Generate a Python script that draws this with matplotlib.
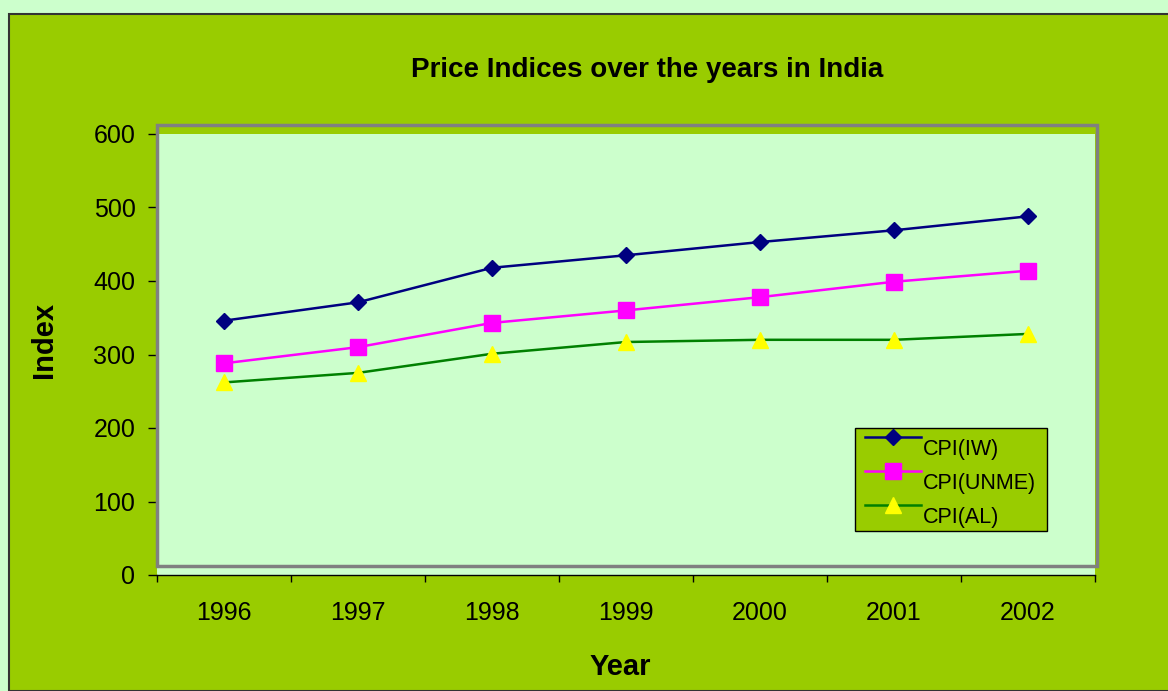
import matplotlib
matplotlib.use('Agg')
import matplotlib.pyplot as plt
from matplotlib.patches import Rectangle
from matplotlib.lines import Line2D
from matplotlib.ticker import FixedLocator, NullFormatter

years = ['1996', '1997', '1998', '1999', '2000', '2001', '2002']
cpi_iw = [346, 371, 418, 435, 453, 469, 488]
cpi_unme = [288, 310, 343, 360, 378, 399, 414]
cpi_al = [262, 275, 301, 317, 320, 320, 328]
series_names = ['CPI(IW)', 'CPI(UNME)', 'CPI(AL)']

W, H = 1168, 691
plt.rcParams.update({
    "font.family": ["Liberation Sans", "DejaVu Sans"],
    "font.size": 12,
})

styles = [
    dict(color='#000080', lw=1.8, marker='D', ms=8.5, mfc='#000080', mec='#000080'),
    dict(color='#FF00FF', lw=1.8, marker='s', ms=11, mfc='#FF00FF', mec='#FF00FF'),
    dict(color='#008000', lw=1.8, marker='^', ms=12, mfc='#FFFF00', mec='#FFFF00'),
]

fig = plt.figure(figsize=(W / 100, H / 100), dpi=100)
fig.patch.set_facecolor('#CCFFCC')

# outer chart panel
fig.patches.append(Rectangle((9 / W, 0), 1.2, 1 - 14 / H, transform=fig.transFigure,
                             facecolor='#99CC00', edgecolor='#333333', linewidth=1.5, zorder=-10))

left, right, bottom, top = 157 / W, 1095 / W, 1 - 575 / H, 1 - 134 / H
ax = fig.add_axes([left, bottom, right - left, top - bottom])
ax.set_facecolor('#CCFFCC')
for s in ['top', 'right', 'left']:
    ax.spines[s].set_visible(False)
ax.spines['bottom'].set_color('black')
ax.spines['bottom'].set_linewidth(1)

# gray plot-area border (shifted slightly up, as in the original)
fig.patches.append(Rectangle((157 / W, 1 - 566 / H), (1097 - 157) / W, (566 - 125) / H,
                             transform=fig.transFigure, facecolor='none',
                             edgecolor='#808080', linewidth=2.5, zorder=3))

x = list(range(len(years)))
for vals, st, name in zip([cpi_iw, cpi_unme, cpi_al], styles, series_names):
    ax.plot(x, vals, label=name, **st)

ax.set_xlim(-0.5, len(years) - 0.5)
ax.set_ylim(0, 600)
ax.set_yticks(range(0, 601, 100))
ax.xaxis.set_major_locator(FixedLocator([i - 0.5 for i in range(len(years) + 1)]))
ax.xaxis.set_major_formatter(NullFormatter())
ax.xaxis.set_minor_locator(FixedLocator(x))
ax.set_xticklabels(years, minor=True)
ax.tick_params(axis='x', which='major', direction='out', length=5, width=1, color='black')
ax.tick_params(axis='x', which='minor', length=0, pad=19, labelsize=18)
ax.tick_params(axis='y', direction='out', length=6.5, width=1, color='black', labelsize=18, pad=9)

ax.set_xlabel('Year', fontsize=21, fontweight='bold')
ax.xaxis.set_label_coords(0.4936, -0.2268)
ax.xaxis.label.set_va('baseline')
ax.set_ylabel('Index', fontsize=21, fontweight='bold')
ax.yaxis.set_label_coords(-0.121, 0.533)
ax.yaxis.label.set_va('center')

fig.text(647 / W, 1 - 77 / H, 'Price Indices over the years in India', ha='center', va='baseline',
         fontsize=20, fontweight='bold')

# legend drawn like the original: labels sit a little below each sample line
fig.patches.append(Rectangle((855 / W, 1 - 531 / H), (1047 - 855) / W, (531 - 428) / H,
                             transform=fig.transFigure, facecolor='#99CC00',
                             edgecolor='black', linewidth=1, zorder=4))
for i, (st, name) in enumerate(zip(styles, series_names)):
    yl = 437 + 34 * i
    fig.add_artist(Line2D([865 / W, 921 / W], [1 - yl / H] * 2, transform=fig.transFigure,
                          color=st['color'], lw=st['lw'], zorder=5))
    fig.add_artist(Line2D([893 / W], [1 - yl / H], transform=fig.transFigure, ls='none',
                          marker=st['marker'], ms=st['ms'], mfc=st['mfc'], mec=st['mec'], zorder=6))
    fig.text(923 / W, 1 - (yl + 18) / H, name, fontsize=15.5, va='baseline', ha='left', zorder=6)

fig.savefig('out.png', dpi=100, facecolor=fig.get_facecolor())
